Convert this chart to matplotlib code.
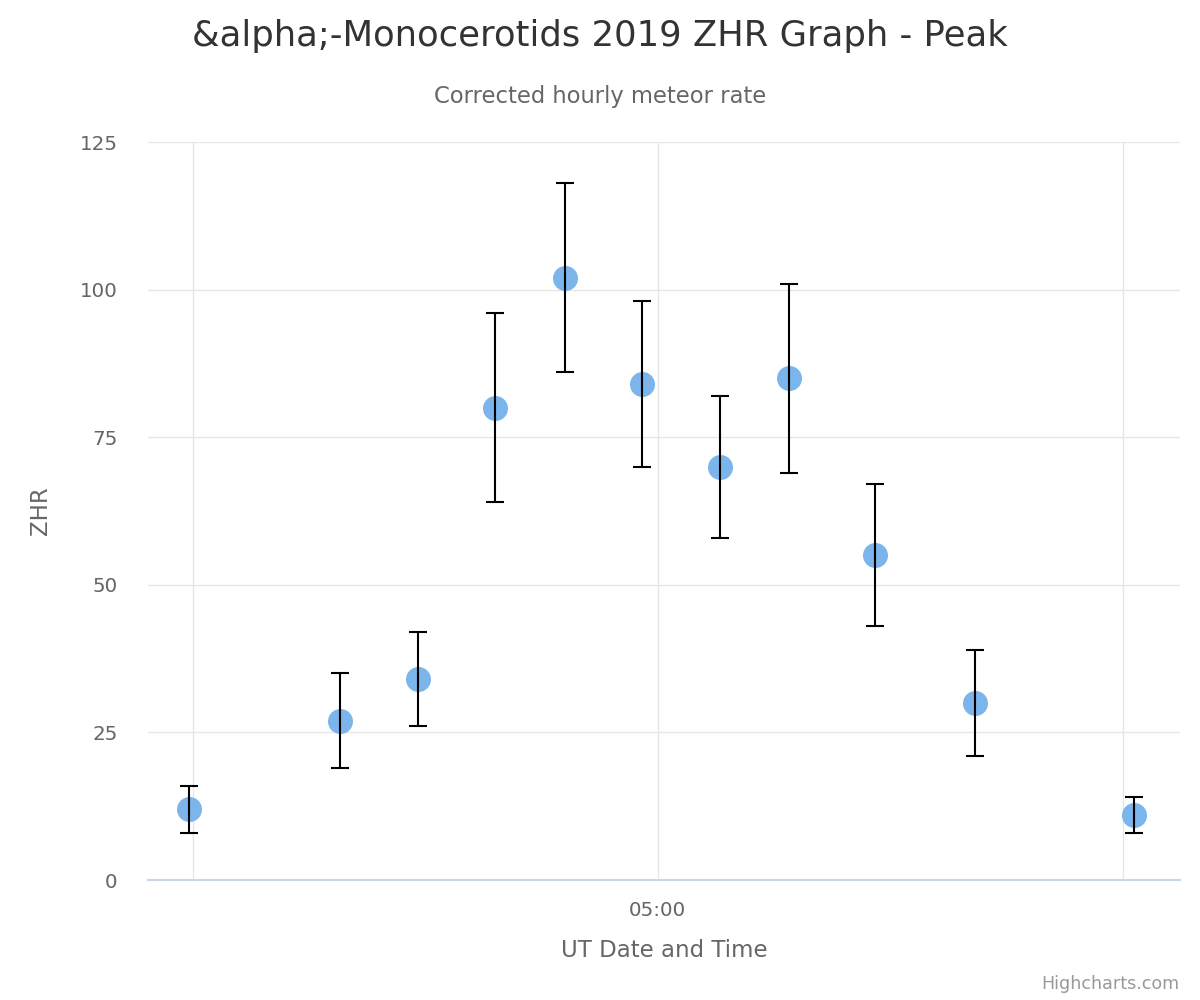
import matplotlib.pyplot as plt
import matplotlib.dates as mdates
import pandas as pd

# observation times (UT) and ZHR values with error ranges
times = ["2019-11-22 03:59:30", "2019-11-22 04:19:00", "2019-11-22 04:29:00",
         "2019-11-22 04:39:00", "2019-11-22 04:48:00", "2019-11-22 04:58:00",
         "2019-11-22 05:08:00", "2019-11-22 05:17:00", "2019-11-22 05:28:00",
         "2019-11-22 05:41:00", "2019-11-22 06:01:30"]
zhr = [12, 27, 34, 80, 102, 84, 70, 85, 55, 30, 11]
zhr_low = [8, 19, 26, 64, 86, 70, 58, 69, 43, 21, 8]
zhr_high = [16, 35, 42, 96, 118, 98, 82, 101, 67, 39, 14]

tick_times = ["2019-11-22 04:00:00", "2019-11-22 05:00:00", "2019-11-22 06:00:00"]
tick_labels = ["", "05:00", ""]

x = mdates.date2num(pd.to_datetime(times))
ticks = mdates.date2num(pd.to_datetime(tick_times))
err_lo = [v - lo for v, lo in zip(zhr, zhr_low)]
err_hi = [hi - v for v, hi in zip(zhr, zhr_high)]

plt.rcParams['font.family'] = ['DejaVu Sans']

fig = plt.figure(figsize=(12, 10), dpi=100)
ax = fig.add_axes([0.1233, 0.12, 0.86, 0.738])

ax.plot(x, zhr, 'o', color='#7cb5ec', markersize=17, zorder=3)
ax.errorbar(x, zhr, yerr=[err_lo, err_hi], fmt='none', ecolor='black',
            elinewidth=1.5, capsize=6.5, capthick=1.5, zorder=4)

# x range: a bit before 04:00 to a bit after 06:00
hour = ticks[1] - ticks[0]
ax.set_xlim(ticks[0] - hour * 5.8 / 60, ticks[0] + hour * 127.4 / 60)
ax.set_ylim(0, 125)
ax.set_xticks(ticks)
ax.set_xticklabels(tick_labels)
ax.set_yticks([0, 25, 50, 75, 100, 125])

ax.grid(True, color='#e6e6e6', linewidth=1.0)
ax.set_axisbelow(True)
for s in ['top', 'right', 'left']:
    ax.spines[s].set_visible(False)
ax.spines['bottom'].set_color('#ccd6eb')
ax.spines['bottom'].set_linewidth(1.5)
ax.tick_params(axis='both', length=0, labelsize=14.3, labelcolor='#666666')
ax.tick_params(axis='y', pad=22)
ax.tick_params(axis='x', pad=15)

ax.set_xlabel('UT Date and Time', fontsize=16.5, color='#666666', labelpad=14)
ax.set_ylabel('ZHR', fontsize=16.5, color='#666666', labelpad=20)

fig.text(0.5, 0.964, '&alpha;-Monocerotids 2019 ZHR Graph - Peak',
         ha='center', va='center', fontsize=25.5, color='#333333')
fig.text(0.5, 0.904, 'Corrected hourly meteor rate',
         ha='center', va='center', fontsize=16.3, color='#666666')
fig.text(0.983, 0.016, 'Highcharts.com', ha='right', va='center',
         fontsize=12.6, color='#999999')

fig.savefig('out.png', dpi=100)
